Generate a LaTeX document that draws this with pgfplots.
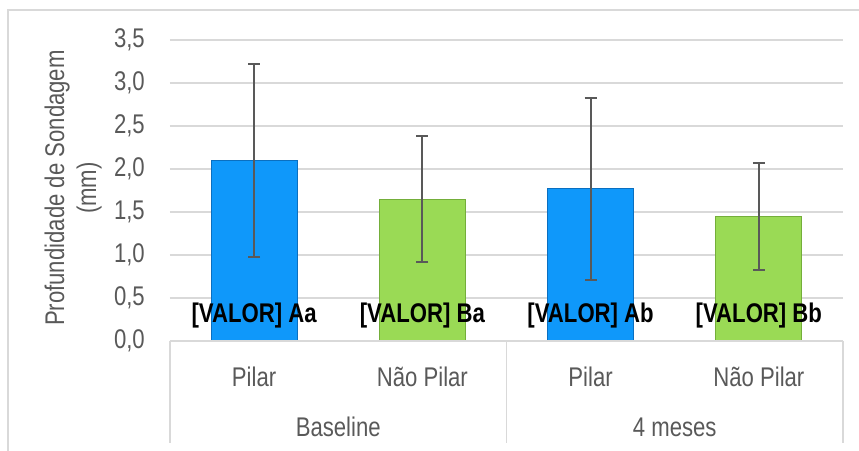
\documentclass[border=0pt]{standalone}
\usepackage{pgfplots}
\pgfplotsset{compat=1.18}
\usepackage{fontspec}
\setmainfont{Liberation Sans}[FakeStretch=0.82]

\definecolor{txt}{HTML}{595959}
\definecolor{gridc}{HTML}{D9D9D9}
\definecolor{barblue}{HTML}{0F98FA}
\definecolor{bluedge}{HTML}{0A6FC0}
\definecolor{bargreen}{HTML}{9ADA55}
\definecolor{greenedge}{HTML}{74AE3A}
\definecolor{errc}{HTML}{595959}

\begin{document}
\fontsize{27bp}{32bp}\selectfont
\begin{tikzpicture}
\useasboundingbox (-170bp,-110bp) rectangle (689bp,341bp);
% moldura do grafico (so topo e esquerda aparecem)
\draw[gridc, line width=1.5bp] (-162bp,-130bp) -- (-162bp,331bp) -- (720bp,331bp);

\begin{axis}[
  width=673bp, height=301bp,
  scale only axis,
  clip=false,
  ybar,
  bar width=86bp,
  xmin=0.5, xmax=4.5,
  ymin=0, ymax=3.5,
  xtick={1,2,3,4},
  xticklabels={Pilar, Não Pilar, Pilar, Não Pilar},
  ytick={0,0.5,...,3.5},
  ymajorgrids=true,
  grid style={gridc, line width=1.5bp},
  axis line style={draw=none},
  major tick length=0pt,
  tick label style={text=txt},
  yticklabel style={
    /pgf/number format/.cd, fixed, fixed zerofill, precision=1, use comma,
    assume math mode=true,
    /tikz/.cd, xshift=-16bp},
  xticklabel style={anchor=center, yshift=-36bp},
  ylabel={Profundidade de Sondagem\\(mm)},
  ylabel style={at={(axis description cs:-0.144,0.508)}, anchor=center,
    align=center, text=txt},
  error bars/y dir=both,
  error bars/y explicit,
  error bars/error bar style={errc, line width=1.8bp},
  error bars/error mark options={errc, line width=1.8bp, mark size=6bp, rotate=90},
]

\addplot[fill=barblue, draw=bluedge, line width=0.8bp, bar shift=0pt]
  coordinates {(1,2.10) +- (0,1.12) (3,1.77) +- (0,1.06)};
\addplot[fill=bargreen, draw=greenedge, line width=0.8bp, bar shift=0pt]
  coordinates {(2,1.65) +- (0,0.73) (4,1.45) +- (0,0.62)};

% caixa do eixo de categorias
\draw[gridc, line width=1.5bp] (rel axis cs:0,0) -- (rel axis cs:1,0);
\draw[gridc, line width=1.5bp] (rel axis cs:0,0) -- ([yshift=-102bp]rel axis cs:0,0);
\draw[gridc, line width=1.5bp] (rel axis cs:0.5,0) -- ([yshift=-102bp]rel axis cs:0.5,0);
\draw[gridc, line width=1.5bp] (rel axis cs:1,0) -- ([yshift=-102bp]rel axis cs:1,0);

\node[text=txt] at (axis cs:1.5,0) [yshift=-86bp] {Baseline};
\node[text=txt] at (axis cs:3.5,0) [yshift=-86bp] {4 meses};

\node at (axis cs:1,0.3) {\bfseries [VALOR] Aa};
\node at (axis cs:2,0.3) {\bfseries [VALOR] Ba};
\node at (axis cs:3,0.3) {\bfseries [VALOR] Ab};
\node at (axis cs:4,0.3) {\bfseries [VALOR] Bb};
\end{axis}
\end{tikzpicture}
\end{document}
